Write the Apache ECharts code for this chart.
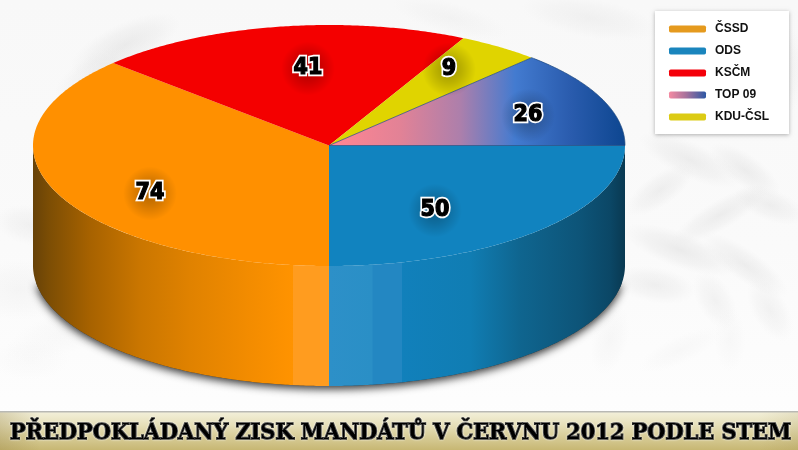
<!DOCTYPE html>
<html><head><meta charset="utf-8">
<style>html,body{margin:0;padding:0;background:#fbfbfb}#c{width:798px;height:450px}</style>
<script src="https://cdn.jsdelivr.net/npm/echarts@6/dist/echarts.min.js"></script>
</head><body><div id="c"></div>
<script>
const parties = ['ČSSD', 'ODS', 'KSČM', 'TOP 09', 'KDU-ČSL'];
const seats = [74, 50, 41, 26, 9];
const sliceOrder = ['ODS', 'ČSSD', 'KSČM', 'KDU-ČSL', 'TOP 09'];
const titleText = 'PŘEDPOKLÁDANÝ ZISK MANDÁTŮ V ČERVNU 2012 PODLE STEM';

const CX = 329, CY = 145.5, RX = 296, RY = 120.5, DEPTH = 120;
const LG = echarts.graphic.LinearGradient, RG = echarts.graphic.RadialGradient;
const gx = (stops) => new LG(0, 0, 798, 0, stops.map(s => ({offset: s[0] / 798, color: s[1]})), true);

const faceFill = {
  'ČSSD': '#ff9000', 'ODS': '#1183bf', 'KSČM': '#f40000', 'KDU-ČSL': '#e0d400',
  'TOP 09': gx([[335,'#ff8592'],[400,'#e28296'],[460,'#ad7fab'],[515,'#437bd0'],[570,'#2a5cae'],[625,'#0d4690']])
};
const legendFill = {
  'ČSSD': '#e59a1e', 'ODS': '#1a85bd', 'KSČM': '#f4000a', 'KDU-ČSL': '#dccb14',
  'TOP 09': new LG(0, 0, 1, 0, [{offset:0,color:'#f48aa2'},{offset:.45,color:'#a9729c'},{offset:1,color:'#2d57a4'}])
};
const wallFill = {
  'ČSSD': gx([[33,'#674208'],[50,'#7d4e04'],[90,'#a76200'],[140,'#ca7600'],[190,'#e08200'],[250,'#f38c00'],[292.9,'#ff9300'],[293,'#ff9c1f'],[329,'#ff9c1f']]),
  'ODS': gx([[329,'#2d90c8'],[372,'#2a8fc6'],[373,'#2387c2'],[401.9,'#2387c2'],[402,'#1180bb'],[470,'#107db3'],[520,'#0f658f'],[580,'#0d5478'],[610,'#0b4766'],[626,'#093850']])
};
const labelOffset = {
  'ČSSD': [-179, 48], 'ODS': [106, 65], 'KSČM': [-21, -77], 'KDU-ČSL': [120, -76], 'TOP 09': [199, -30]
};

function valueOf(name) { return seats[parties.indexOf(name)]; }
const total = seats.reduce((a, b) => a + b, 0);
function sliceRange(name) {
  let a = 0;
  for (const n of sliceOrder) {
    const sweep = valueOf(n) / total * 360;
    if (n === name) return [a, a + sweep];
    a += sweep;
  }
}
function rim(t, dy) {
  const r = t * Math.PI / 180;
  return [CX + RX * Math.cos(r), CY + (dy || 0) + RY * Math.sin(r)];
}
function arc(a, b, dy) {
  const pts = [], n = Math.max(2, Math.ceil(Math.abs(b - a) * 2));
  for (let i = 0; i <= n; i++) pts.push(rim(a + (b - a) * i / n, dy));
  return pts;
}
function wallSeries(name) {
  return {
    type: 'custom', coordinateSystem: 'none', silent: true, z: name === 'ODS' ? 3 : 4,
    data: [valueOf(name)],
    renderItem: function () {
      const [a, b] = sliceRange(name);
      const lo = Math.max(a, 0), hi = Math.min(b, 180);
      const children = [];
      if (name === 'ODS') {
        children.push({type: 'polygon', shape: {points: arc(8, 172, DEPTH)},
          style: {fill: '#333', shadowBlur: 9, shadowColor: 'rgba(0,0,0,.8)', shadowOffsetY: 3}});
      }
      children.push({type: 'polygon',
        shape: {points: arc(lo, hi, 0).concat(arc(hi, lo, DEPTH))},
        style: {fill: wallFill[name]}});
      return {type: 'group', children};
    }
  };
}
function faceSeries(name) {
  return {
    type: 'custom', coordinateSystem: 'none', name, silent: true, z: 5,
    itemStyle: {color: legendFill[name]},
    data: [valueOf(name)],
    renderItem: function (params, api) {
      const [a, b] = sliceRange(name);
      const style = {fill: faceFill[name]};
      if (name === 'TOP 09') { style.stroke = 'rgba(25,70,125,.7)'; style.lineWidth = 1; }
      return {type: 'polygon', shape: {points: [[CX, CY]].concat(arc(a, b, 0))}, style};
    }
  };
}
function labelSeries(name) {
  return {
    type: 'custom', coordinateSystem: 'none', silent: true, z: 8,
    data: [valueOf(name)],
    renderItem: function (params, api) {
      const x = CX + labelOffset[name][0], y = CY + labelOffset[name][1];
      const txt = String(api.value(0));
      const font = 'bold 23px "DejaVu Sans Condensed"';
      const base = {text: txt, x, y, font, textAlign: 'center', textVerticalAlign: 'middle'};
      return {type: 'group', children: [
        {type: 'circle', shape: {cx: x, cy: y, r: 27},
          style: {fill: new RG(.5,.5,.5,[{offset:0,color:'rgba(0,0,0,.3)'},{offset:.5,color:'rgba(0,0,0,.16)'},{offset:1,color:'rgba(0,0,0,0)'}])}},
        {type: 'text', style: Object.assign({}, base, {fill: '#fff', stroke: '#fff', lineWidth: 4.5})},
        {type: 'text', style: Object.assign({}, base, {fill: '#000', stroke: '#000', lineWidth: 1.2})}
      ]};
    }
  };
}

const blobs = [
  [125,45,60,22,-25,.32],[95,75,45,20,-30,.22],[70,330,70,22,-20,.1],[30,225,35,20,10,.22],[20,290,50,30,0,.14],
  [450,18,60,16,15,.14],[590,18,70,20,10,.2],[780,70,30,45,0,.2],
  [690,160,55,18,25,.3],[745,170,42,16,35,.3],[660,190,40,16,-35,.28],[720,215,55,15,-30,.3],[770,205,38,16,20,.28],
  [680,250,60,18,20,.34],[745,265,52,16,35,.3],[655,285,42,18,10,.28],[770,310,35,18,60,.22],[715,300,32,18,60,.22],
  [610,340,18,36,15,.12],[680,350,45,14,-25,.1],[730,340,16,32,0,.1],[30,360,40,20,0,.07]
];
const bgGraphics = [
  {type:'rect', z:-10, shape:{x:0,y:0,width:798,height:450}, style:{fill:new LG(0,0,0,1,[{offset:0,color:'#f8f8f8'},{offset:.55,color:'#fafafa'},{offset:1,color:'#fefefe'}])}}
].concat(blobs.map(b => ({
  type:'circle', z:-9, x:b[0], y:b[1], scaleX:b[2], scaleY:b[3], rotation:-b[4]*Math.PI/180,
  shape:{cx:0,cy:0,r:1},
  style:{fill:new RG(.5,.5,.5,[{offset:0,color:'rgba(205,205,205,'+b[5]+')'},{offset:.6,color:'rgba(215,215,215,'+(b[5]*.6)+')'},{offset:1,color:'rgba(225,225,225,0)'}])}
}))).concat([
  {type:'rect', z:1, shape:{x:0,y:412,width:798,height:38},
   style:{fill:new LG(0,0,0,1,[{offset:0,color:'#f3f0da'},{offset:.35,color:'#e6dfb8'},{offset:1,color:'#c7b773'}])}},
  {type:'rect', z:1, shape:{x:0,y:412,width:798,height:38},
   style:{fill:new LG(0,0,1,0,[{offset:0,color:'rgba(140,120,60,.25)'},{offset:.05,color:'rgba(140,120,60,0)'},{offset:.95,color:'rgba(140,120,60,0)'},{offset:1,color:'rgba(140,120,60,.12)'}])}},
  {type:'rect', z:1, shape:{x:0,y:411,width:798,height:1.5}, style:{fill:'#b9b9b4'}}
]);

const chart = echarts.init(document.getElementById('c'), null, {renderer:'canvas'});
chart.setOption({
  animation: false,
  backgroundColor: '#fbfbfb',
  title: {
    text: titleText, left: 10, top: 420, padding: 0, z: 10,
    textStyle: {fontFamily:'"DejaVu Serif Condensed"', fontWeight:'bold', fontSize: 23.2, lineHeight: 26, color:'#000',
      textBorderColor:'#000', textBorderWidth:1.4, textShadowColor:'rgba(255,255,255,.9)', textShadowBlur:2}
  },
  legend: {
    orient:'vertical', left:655, top:11, padding:[11,20,10,14],
    backgroundColor:'#fff', shadowColor:'rgba(0,0,0,.3)', shadowBlur:4, shadowOffsetY:1,
    icon:'roundRect', itemWidth:37, itemHeight:7, itemGap:8, selectedMode:false,
    itemStyle:{borderWidth:0},
    textStyle:{fontFamily:'"Liberation Sans"', fontWeight:'bold', fontSize:12, color:'#111', lineHeight:14, padding:[0,0,0,4]},
    data: parties.map(p => ({name:p, itemStyle:{color:legendFill[p]}}))
  },
  graphic: {elements: bgGraphics},
  series: ['ODS','ČSSD'].map(wallSeries)
    .concat(sliceOrder.map(faceSeries))
    .concat(sliceOrder.map(labelSeries))
});
</script></body></html>
